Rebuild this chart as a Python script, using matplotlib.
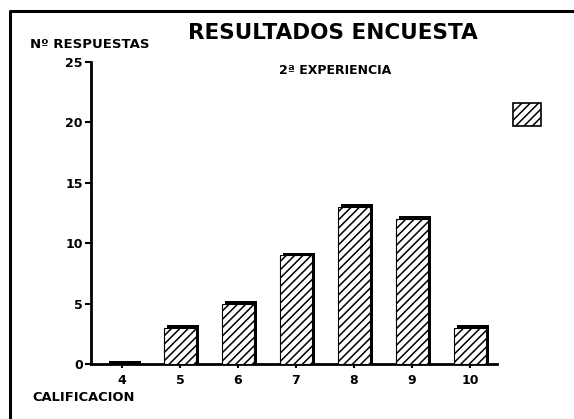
import matplotlib.pyplot as plt
from matplotlib.patches import Rectangle
from matplotlib.lines import Line2D

plt.rcParams['font.family'] = ['DejaVu Sans']
plt.rcParams['font.weight'] = 'bold'
plt.rcParams['hatch.linewidth'] = 1.1

# Datos de la encuesta
calificaciones = [4, 5, 6, 7, 8, 9, 10]
respuestas = [0, 3, 5, 9, 13, 12, 3]
etiquetas_y = [0, 5, 10, 15, 20, 25]

W, H = 574, 419
fig = plt.figure(figsize=(W / 100, H / 100), dpi=100)
ax = fig.add_axes([91 / W, 1 - 364 / H, 406 / W, 302 / H])

ancho = 0.55
sombra_x = 0.05
sombra_y = 0.22
rayado = '////'

# Sombra negra detras de cada barra (efecto 3D)
ax.bar([c + sombra_x for c in calificaciones], [r + sombra_y for r in respuestas],
       width=ancho, color='black', zorder=2)
# Barras rayadas
ax.bar(calificaciones, respuestas, width=ancho, color='white', edgecolor='black',
       hatch=rayado, linewidth=0.8, zorder=3)

ax.set_xlim(3.466, 10.466)
ax.set_ylim(0, 25)
ax.set_xticks(calificaciones)
ax.set_xticklabels([str(c) for c in calificaciones])
ax.set_yticks(etiquetas_y)
ax.tick_params(axis='both', labelsize=9, width=1.5, length=4, direction='out')
ax.tick_params(axis='x', length=3, pad=4)
ax.tick_params(axis='y', pad=2)
for s in ['top', 'right']:
    ax.spines[s].set_visible(False)
for s in ['left', 'bottom']:
    ax.spines[s].set_linewidth(2)

# Textos
fig.text(333 / W, 1 - 33 / H, 'RESULTADOS ENCUESTA', ha='center', va='center',
         fontsize=15.5, fontweight='bold')
fig.text(335 / W, 1 - 70 / H, '2ª EXPERIENCIA', ha='center', va='center',
         fontsize=9, fontweight='bold')
fig.text(30 / W, 1 - 44 / H, 'Nº RESPUESTAS', ha='left', va='center',
         fontsize=9.5, fontweight='bold')
fig.text(32 / W, 1 - 397 / H, 'CALIFICACION', ha='left', va='center',
         fontsize=9.4, fontweight='bold')

# Cuadro de leyenda
fig.patches.append(Rectangle((513 / W, 1 - 126 / H), 28 / W, 23 / H,
                             transform=fig.transFigure, facecolor='white',
                             edgecolor='black', hatch=rayado, linewidth=1.2))

# Marco superior e izquierdo
fig.lines.append(Line2D([10 / W, 10 / W, 1], [0, 1 - 11 / H, 1 - 11 / H],
                        transform=fig.transFigure, color='black', linewidth=2.2))

fig.savefig('out.png', dpi=100)
